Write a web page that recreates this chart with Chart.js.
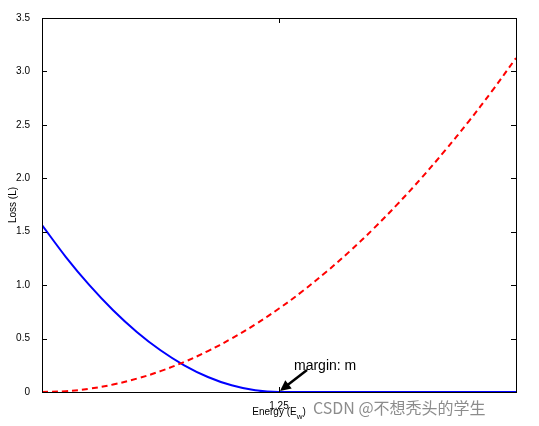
<!DOCTYPE html>
<html lang="en">
<head>
<meta charset="UTF-8">
<title>Loss vs Energy</title>
<script src="https://cdn.jsdelivr.net/npm/chart.js"></script>
<style>
  body { margin: 0; background: #fff; }
  #wrap { width: 539px; height: 426px; }
</style>
</head>
<body>
<div id="wrap"><canvas id="c" width="539" height="426"></canvas></div>
<script>
const energy = [0, 0.125, 0.25, 0.375, 0.5, 0.625, 0.75, 0.875, 1.0, 1.125, 1.25,
                1.375, 1.5, 1.625, 1.75, 1.875, 2.0, 2.125, 2.25, 2.375, 2.5];
const lossBlue = [1.5625, 1.2656, 1.0, 0.7656, 0.5625, 0.3906, 0.25, 0.1406, 0.0625, 0.0156, 0,
                  0, 0, 0, 0, 0, 0, 0, 0, 0, 0];
const lossRed = [0, 0.0078, 0.031, 0.070, 0.125, 0.195, 0.281, 0.383, 0.5, 0.633, 0.781,
                 0.945, 1.125, 1.320, 1.531, 1.758, 2.0, 2.258, 2.531, 2.820, 3.125];
const xTicks = [1.25];
const yTicks = [0, 0.5, 1, 1.5, 2, 2.5, 3, 3.5];
const margin = 1.25;

const font = 'Liberation Sans, Arial, sans-serif';

const decor = {
  id: 'decor',
  afterDraw(chart) {
    const { ctx, chartArea: a, scales: { x, y } } = chart;
    ctx.save();
    ctx.strokeStyle = '#000';
    ctx.lineWidth = 1;
    ctx.strokeRect(a.left + 0.5, a.top + 0.5, a.right - a.left, a.bottom - a.top);
    ctx.beginPath();
    yTicks.forEach(v => {
      const py = Math.round(y.getPixelForValue(v)) + 0.5;
      ctx.moveTo(a.left, py); ctx.lineTo(a.left + 5, py);
      ctx.moveTo(a.right, py); ctx.lineTo(a.right - 5, py);
    });
    xTicks.forEach(v => {
      const px = Math.round(x.getPixelForValue(v)) + 0.5;
      ctx.moveTo(px, a.bottom); ctx.lineTo(px, a.bottom - 5);
      ctx.moveTo(px, a.top); ctx.lineTo(px, a.top + 5);
    });
    ctx.stroke();

    // axis titles
    ctx.fillStyle = '#000';
    ctx.font = '10px ' + font;
    ctx.textAlign = 'center';
    ctx.textBaseline = 'alphabetic';
    const cx = x.getPixelForValue(margin);
    const t1 = 'Energy (E', t2 = 'w', t3 = ')';
    const w1 = ctx.measureText(t1).width;
    ctx.font = '8px ' + font;
    const w2 = ctx.measureText(t2).width;
    ctx.font = '10px ' + font;
    const w3 = ctx.measureText(t3).width;
    let sx = cx - (w1 + w2 + w3) / 2;
    ctx.textAlign = 'left';
    ctx.fillText(t1, sx, 415);
    ctx.font = '8px ' + font;
    ctx.fillText(t2, sx + w1, 419);
    ctx.font = '10px ' + font;
    ctx.fillText(t3, sx + w1 + w2, 415);

    ctx.save();
    ctx.translate(16, (a.top + a.bottom) / 2);
    ctx.rotate(-Math.PI / 2);
    ctx.textAlign = 'center';
    ctx.fillText('Loss (L)', 0, 0);
    ctx.restore();

    // margin annotation
    const tx = x.getPixelForValue(margin), ty = y.getPixelForValue(0);
    const sx0 = tx + 28, sy0 = ty - 22;
    ctx.strokeStyle = '#000';
    ctx.lineWidth = 2.5;
    ctx.beginPath();
    ctx.moveTo(sx0, sy0);
    ctx.lineTo(tx + 6, ty - 5);
    ctx.stroke();
    const ang = Math.atan2(ty - sy0, tx - sx0);
    ctx.beginPath();
    ctx.moveTo(tx + 1, ty - 1);
    ctx.lineTo(tx + 1 - 12 * Math.cos(ang - 0.45), ty - 1 - 12 * Math.sin(ang - 0.45));
    ctx.lineTo(tx + 1 - 12 * Math.cos(ang + 0.45), ty - 1 - 12 * Math.sin(ang + 0.45));
    ctx.closePath();
    ctx.fillStyle = '#000';
    ctx.fill();
    ctx.font = '14px ' + font;
    ctx.textAlign = 'left';
    ctx.fillText('margin: m', tx + 15, ty - 22);

    // watermark
    ctx.font = '16px "Noto Sans CJK SC", sans-serif';
    ctx.fillStyle = 'rgba(120,120,120,0.85)';
    ctx.textAlign = 'left';
    ctx.fillText('CSDN @不想秃头的学生', 313, 414);
    ctx.restore();
  }
};

new Chart(document.getElementById('c'), {
  type: 'line',
  data: {
    datasets: [
      {
        data: energy.map((e, i) => ({ x: e, y: lossRed[i] })),
        borderColor: '#ff0000', borderWidth: 2, borderDash: [6, 4],
        pointRadius: 0, tension: 0.4, fill: false
      },
      {
        data: energy.map((e, i) => ({ x: e, y: lossBlue[i] })),
        borderColor: '#0000ff', borderWidth: 2,
        pointRadius: 0, tension: 0.2, cubicInterpolationMode: 'monotone', fill: false
      }
    ]
  },
  options: {
    responsive: false,
    animation: false,
    layout: { padding: { top: 18, right: 23, left: 0, bottom: 0 } },
    plugins: { legend: { display: false }, tooltip: { enabled: false } },
    scales: {
      x: {
        type: 'linear', min: 0, max: 2.5,
        grid: { display: false }, border: { display: false },
        afterBuildTicks: s => { s.ticks = xTicks.map(v => ({ value: v })); },
        afterFit: s => { s.height = 34; },
        ticks: { color: '#000', font: { family: font, size: 10 }, padding: 0, maxRotation: 0,
                 callback: v => v.toFixed(2) }
      },
      y: {
        min: 0, max: 3.5,
        grid: { display: false }, border: { display: false },
        afterBuildTicks: s => { s.ticks = yTicks.map(v => ({ value: v })); },
        afterFit: s => { s.width = 42; },
        ticks: { color: '#000', font: { family: font, size: 10 }, padding: 4 }
      }
    }
  },
  plugins: [decor]
});
</script>
</body>
</html>
